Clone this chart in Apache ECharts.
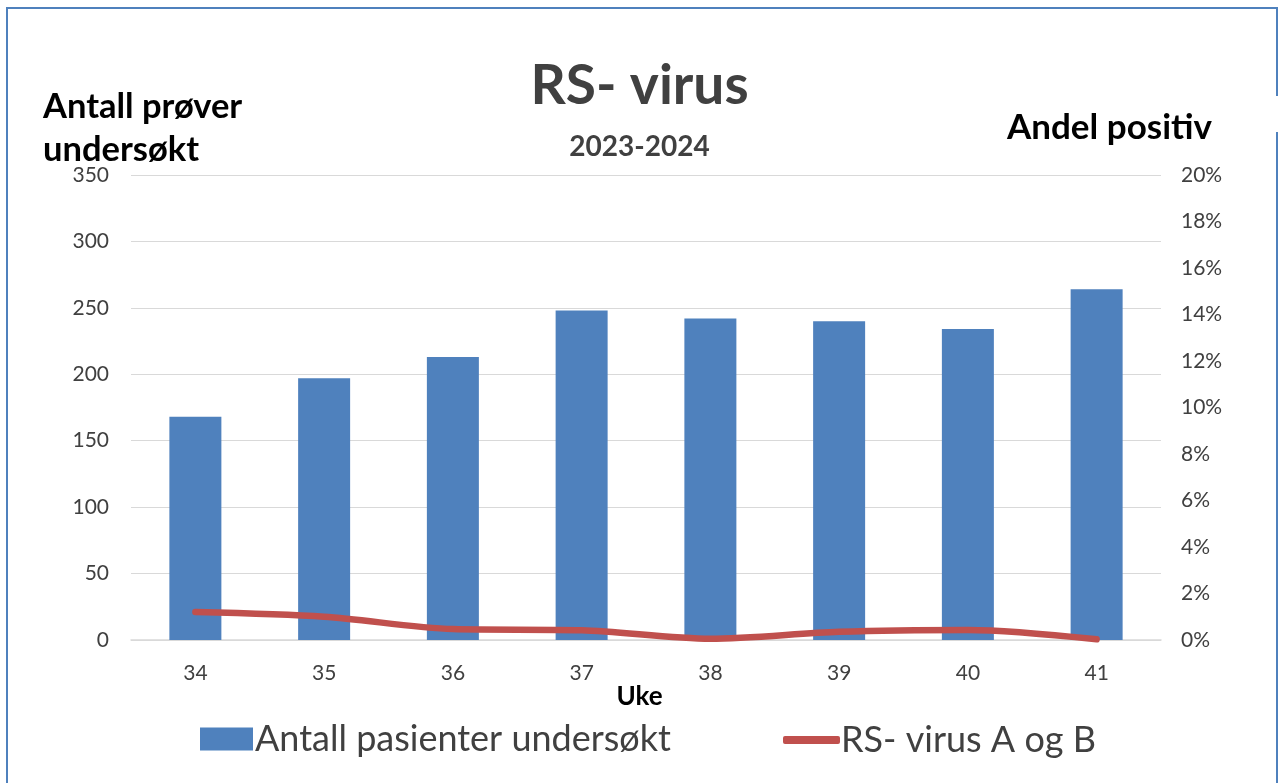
<!DOCTYPE html>
<html>
<head>
<meta charset="utf-8">
<script src="https://cdn.jsdelivr.net/npm/echarts@6/dist/echarts.min.js"></script>
<style>
html,body{margin:0;padding:0;background:#fff;}
#chart{width:1279px;height:783px;}
</style>
</head>
<body>
<div id="chart"></div>
<script>
const weeks = ['34','35','36','37','38','39','40','41'];
const patients = [168, 197, 213, 248, 242, 240, 234, 264];
const positiveShare = [1.2, 1.0, 0.47, 0.42, 0.05, 0.35, 0.43, 0.03];
const barName = 'Antall pasienter undersøkt';
const lineName = 'RS- virus A og B';

const FONT = 'Lato';
const chart = echarts.init(document.getElementById('chart'));
chart.setOption({
  animation: false,
  backgroundColor: '#ffffff',
  textStyle: { fontFamily: FONT },
  title: [
    { text: 'RS- virus', left: 'center', top: 54, textStyle: { fontFamily: FONT, fontSize: 55, fontWeight: 'bold', color: '#404040' } },
    { text: '2023-2024', left: 'center', top: 128, textStyle: { fontFamily: FONT, fontSize: 28, fontWeight: 'bold', color: '#404040' } },
    { text: 'Antall prøver\nundersøkt', left: 38, top: 80, textStyle: { fontFamily: FONT, fontSize: 34.5, fontWeight: 'bold', color: '#000', lineHeight: 43 } },
    { text: 'Andel positiv', left: 1002, top: 105, textStyle: { fontFamily: FONT, fontSize: 35, fontWeight: 'bold', color: '#000' } },
    { text: 'Uke', left: 'center', top: 679, textStyle: { fontFamily: FONT, fontSize: 26, fontWeight: 'bold', color: '#000' } }
  ],
  legend: [
    { data: [barName], left: 195, top: 716, itemWidth: 53, itemHeight: 23, icon: 'rect', itemGap: 0,
      textStyle: { fontFamily: FONT, fontSize: 36, color: '#404040', padding: [0,0,0,-3] } },
    { data: [lineName], left: 778, top: 717, itemWidth: 57, itemHeight: 8, icon: 'roundRect', itemGap: 0,
      textStyle: { fontFamily: FONT, fontSize: 36, color: '#404040', padding: [0,0,0,-4] } }
  ],
  grid: { left: 131, right: 118, top: 175, bottom: 143, containLabel: false },
  xAxis: {
    type: 'category', data: weeks,
    axisLine: { lineStyle: { color: '#d9d9d9', width: 1.5 } },
    axisTick: { show: false },
    axisLabel: { color: '#404040', fontSize: 21, margin: 23, fontFamily: FONT }
  },
  yAxis: [
    { type: 'value', min: 0, max: 350, interval: 50,
      axisLine: { show: false }, axisTick: { show: false },
      splitLine: { lineStyle: { color: '#d9d9d9', width: 1.2 } },
      axisLabel: { color: '#404040', fontSize: 21, margin: 22, fontFamily: FONT } },
    { type: 'value', min: 0, max: 20, interval: 2, position: 'right',
      axisLine: { show: false }, axisTick: { show: false }, splitLine: { show: false },
      axisLabel: { color: '#404040', fontSize: 21, margin: 20, fontFamily: FONT, formatter: v => v + '%' } }
  ],
  series: [
    { name: barName, type: 'bar', data: patients, yAxisIndex: 0, barWidth: 52,
      itemStyle: { color: '#4F81BD' } },
    { name: lineName, type: 'line', data: positiveShare, yAxisIndex: 1, smooth: 0.3,
      showSymbol: false, symbol: 'none',
      lineStyle: { color: '#C0504D', width: 6.5, cap: 'round' }, itemStyle: { color: '#C0504D' } }
  ],
  graphic: [
    { type: 'rect', shape: { x: 7, y: 8, width: 1270, height: 800 }, style: { fill: 'none', stroke: '#4F81BD', lineWidth: 2 }, silent: true },
    { type: 'rect', shape: { x: 1270, y: 96, width: 9, height: 36 }, style: { fill: '#fff' }, silent: true }
  ]
});
</script>
</body>
</html>
